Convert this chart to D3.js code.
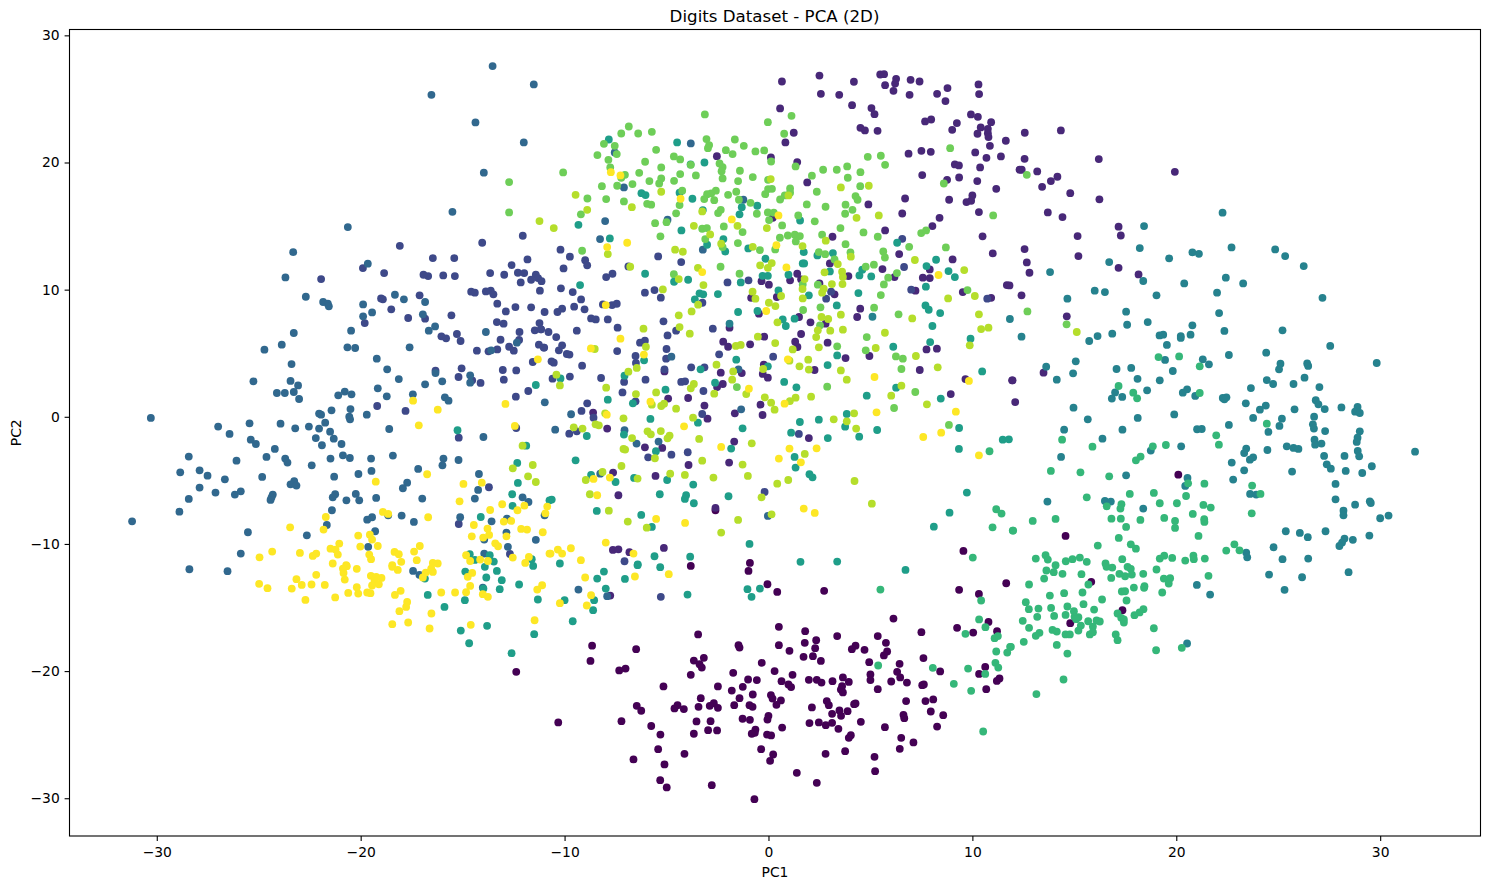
<!DOCTYPE html>
<html>
<head>
<meta charset="utf-8">
<title>Digits Dataset - PCA (2D)</title>
<script src="https://cdn.jsdelivr.net/npm/d3@7"></script>
<style>
  html, body { margin: 0; padding: 0; background: #fff; }
  svg { display: block; font-family: "DejaVu Sans", sans-serif; }
</style>
</head>
<body>
<svg id="chart" width="1489" height="889"></svg>
<script>
// First two principal components of the digits data, flat x,y lists per digit.
const digit0 = [-3.81,-11.73,-0.91,-11.49,-0.98,-12.12,-0.05,-13.17,0.43,-13.77,2.73,-13.69,9.35,-13.61,10.32,-13.93,11.66,-13.09,6.13,-15.87,0.51,-16.52,9.25,-16.6,10.79,-16.13,7.5,-16.94,10.04,-16.97,11.21,-16.86,1.8,-16.86,3.37,-17.25,5.36,-17.25,-3.45,-17.12,2.34,-17.57,1.78,-17.78,5.76,-17.78,-8.65,-18.0,-6.49,-18.28,-1.47,-17.96,-1.42,-18.15,0.51,-17.96,1.03,-18.41,2.29,-18.2,4.27,-18.0,4.09,-18.28,4.71,-18.33,5.82,-18.46,5.66,-18.77,1.72,-18.88,2.18,-18.83,2.57,-19.2,-3.17,-18.96,-3.66,-19.17,-8.73,-19.2,7.6,-18.98,4.94,-19.3,6.43,-19.43,-0.33,-19.35,-3.38,-19.46,-3.27,-19.72,-7.01,-19.8,-7.32,-19.95,0.3,-20.0,-1.73,-20.14,6.31,-20.06,8.42,-20.03,10.63,-19.67,10.33,-20.22,-3.81,-20.29,1.18,-20.29,5.0,-20.27,6.46,-20.5,3.65,-20.5,-1.0,-20.66,-0.57,-20.71,1.98,-20.69,2.37,-20.69,2.6,-20.9,3.14,-20.79,3.94,-20.85,0.64,-20.79,5.0,-20.71,6.02,-20.82,6.79,-20.9,11.33,-20.58,11.2,-20.77,7.62,-21.05,7.54,-21.11,0.98,-21.05,1.11,-21.26,-5.15,-21.21,-2.48,-21.21,-1.26,-21.24,3.61,-21.19,3.55,-21.45,3.65,-21.68,5.36,-21.42,10.68,-21.42,-1.8,-21.53,-0.77,-21.84,0.12,-21.89,0.2,-22.16,-1.42,-22.13,-3.32,-22.13,0.61,-22.31,6.75,-22.36,8.08,-22.23,7.7,-22.36,2.86,-22.36,2.96,-22.68,4.27,-22.55,4.2,-22.6,0.39,-22.65,-1.68,-22.68,-0.93,-22.68,-0.78,-22.81,-2.68,-22.52,-2.88,-22.73,-2.48,-22.89,-3.43,-22.81,-4.46,-22.68,-4.61,-22.94,-4.15,-22.99,-6.46,-22.73,-6.24,-23.12,2.13,-22.86,3.48,-23.1,3.88,-23.15,7.96,-23.18,3.12,-23.36,3.56,-23.52,8.57,-23.47,6.62,-23.44,6.66,-23.7,0.0,-23.52,-0.05,-23.81,-1.27,-23.75,-0.91,-23.83,-10.31,-24.04,-7.21,-23.94,-3.53,-23.96,-2.84,-23.94,2.01,-24.09,2.47,-24.04,2.81,-24.25,3.12,-24.07,4.53,-23.99,-5.75,-24.32,5.71,-24.41,8.27,-24.36,0.67,-24.44,3.43,-24.54,-2.96,-24.65,-2.52,-24.67,-0.64,-24.6,-3.66,-24.93,-5.3,-24.99,-0.67,-24.85,-0.82,-24.93,-0.07,-24.99,0.13,-25.06,4.04,-25.04,3.94,-25.25,6.51,-25.25,7.11,-25.61,6.44,-26.11,-5.41,-26.14,-0.36,-26.14,3.76,-26.3,-4.12,-26.51,2.8,-26.51,0.23,-26.56,5.2,-26.74,-6.62,-26.95,0.08,-27.06,-5.1,-27.34,5.23,-27.87,1.39,-28.0,-5.31,-28.58,2.37,-28.79,-2.78,-28.97,-4.99,-29.15,-0.69,-30.07,-12.37,-20.06,20.1,-4.55,14.57,-9.37,15.83,-12.98,17.36,-15.21,14.8,-16.23,9.56,-10.55,-2.6,-7.35];
const digit1 = [0.66,26.37,2.5,26.84,2.57,25.4,3.47,25.32,4.19,26.35,5.48,26.92,5.67,26.95,6.26,26.58,6.21,26.21,5.72,26.08,6.13,25.64,6.97,26.5,7.41,26.37,6.92,25.32,8.27,25.4,8.78,25.85,8.68,24.83,10.3,26.14,10.33,25.38,4.1,24.51,5.05,24.28,5.2,23.8,0.57,24.25,1.24,22.34,0.83,21.58,4.51,22.73,4.73,22.52,5.35,22.49,7.68,23.23,7.98,23.38,9.24,23.1,9.01,22.57,9.93,23.78,10.27,23.59,10.92,23.17,10.41,22.76,10.76,22.65,10.25,22.26,10.76,22.31,10.79,22.0,11.64,21.71,10.86,21.31,6.87,20.69,7.5,20.92,7.96,20.84,10.14,20.79,11.4,20.48,10.69,20.37,9.14,19.85,9.34,19.77,10.38,19.61,12.31,19.43,-2.53,20.5,0.12,20.4,1.41,20.03,7.54,19.01,8.76,18.64,9.35,18.82,10.24,18.54,11.17,17.93,1.9,18.43,6.7,17.17,8.86,17.07,10.0,17.41,9.71,16.89,9.94,16.99,4.9,16.7,6.56,15.99,10.32,16.1,8.39,15.65,0.21,15.65,8.04,15.0,5.72,14.66,10.5,14.19,3.14,14.16,6.41,12.8,11.0,12.85,3.01,12.06,9.03,12.38,5.59,11.62,7.91,11.59,7.57,10.94,7.91,10.91,6.18,10.99,3.92,11.07,1.41,11.25,1.06,10.73,-0.34,10.67,0.02,10.39,2.5,10.49,1.6,10.81,7.21,9.92,9.53,9.81,11.69,10.36,10.92,9.36,3.24,9.63,0.41,9.42,-0.85,9.36,12.57,22.34,14.34,22.52,12.56,20.29,16.2,20.27,12.42,19.43,13.18,19.3,13.85,18.54,14.17,18.88,13.42,18.09,14.8,17.59,16.23,17.1,19.93,19.27,13.7,16.07,14.42,15.71,15.16,14.21,17.17,14.95,17.28,14.26,12.56,13.19,12.67,12.14,12.8,11.33,15.2,12.64,17.17,11.72,18.15,11.2,12.41,9.55,11.82,10.33,14.63,7.9,13.49,3.47,11.97,2.87,12.1,1.16,4.5,8.5,4.35,7.85,-1.91,7.01,-0.47,8.11,1.5,7.85,2.06,7.43,2.8,7.32,1.6,6.51,-0.21,6.3,1.31,5.91,1.42,5.49,2.9,5.83,-0.9,5.7,-2.22,5.91,-1.98,5.51,3.78,4.62,4.95,4.78,7.75,5.3,8.26,5.36,7.42,3.68,2.26,3.68,-0.23,4.1,-0.28,3.37,-0.03,3.08,-1.31,3.44,-2.34,3.47,-2.24,2.58,-2.52,2.34,9.66,2.97,11.95,2.87,8.94,1.79,-5.1,3.57,-4.92,1.43,-3.94,1.48,-3.14,0.88,-0.39,0.95,-0.29,0.14,-1.65,0.27,-2.99,-0.15,-8.6,0.33,-7.91,-0.93,1.98,-1.67,-1.68,-1.95,-6.06,-2.4,-5.21,-2.45,-1.93,-3.6,-3.92,-3.79,-7.62,-4.39,-5.54,-4.65,-7.36,-6.17,-2.6,-7.17,-7.63,-10.47,-7.36,-10.42,-6.82,-10.65,-5.13,-10.31,-7.76,-14.06];
const digit2 = [-19.89,11.7,-18.08,13.45,-21.94,10.83,-18.85,11.3,-16.46,12.48,-15.41,12.48,-14.04,13.69,-12.05,14.24,-11.82,12.38,-12.6,11.93,-12.29,11.33,-11.98,11.3,-11.41,11.17,-11.3,10.91,-11.13,10.67,-11.64,10.78,-12.15,10.57,-12.96,11.17,-13.65,11.3,-15.38,11.07,-15.95,11.12,-16.69,11.07,-16.92,11.17,-11.21,9.92,-13.62,9.92,-13.86,9.86,-13.49,9.63,-14.58,9.84,-14.4,9.76,-19.0,9.31,-17.11,9.55,-18.91,9.24,-18.5,8.45,-17.67,7.77,-16.84,7.72,-19.8,7.37,-15.55,7.98,-16.04,6.33,-15.81,6.17,-15.28,6.51,-15.1,5.96,-14.3,5.2,-13.3,8.9,-12.88,8.29,-12.41,8.63,-11.64,8.61,-10.98,8.24,-13.32,7.45,-12.99,7.32,-11.23,7.37,-11.46,6.8,-11.16,6.88,-12.21,6.67,-13.14,6.06,-12.23,6.04,-12.72,5.51,-12.49,5.2,-13.3,5.3,-11.26,5.67,-11.0,5.44,-13.73,5.15,-11.56,4.31,-13.03,3.68,-12.37,3.65,-15.05,3.81,-16.33,3.63,-15.2,3.13,-14.53,2.87,-14.12,2.66,-12.98,2.92,-11.78,2.03,-12.39,1.58,-19.19,0.85,-17.8,0.46,-12.37,-0.88,-15.19,-1.64,-13.71,-5.54,-15.19,-8.43,-12.68,-10.79,-10.2,13.14,-9.74,12.59,-8.99,12.32,-8.89,11.91,-10.05,11.67,-7.65,11.25,-7.96,10.99,-6.87,11.83,-5.41,12.61,-4.28,12.17,-10.18,10.1,-9.6,9.81,-9.19,9.23,-6.06,9.76,-5.59,9.97,-5.28,9.37,-2.01,10.57,-0.98,10.73,-9.53,8.66,-9.02,8.45,-10.35,8.24,-10.12,8.5,-8.12,8.84,-7.67,8.79,-7.44,8.89,-3.24,8.97,-8.7,7.74,-8.47,7.66,-7.88,7.66,-5.15,7.51,-7.4,7.01,-4.53,6.77,-4.95,6.4,-2.73,6.93,-9.4,6.77,-10.79,6.67,-11.15,6.88,-10.41,6.27,-6.06,5.99,-6.3,5.83,-10.12,5.62,-11.02,5.44,-10.28,5.23,-9.89,4.94,-9.76,4.89,-7.42,5.17,-5.0,5.33,-5.02,4.57,-6.52,4.78,-6.5,4.23,-10.64,4.36,-10.53,4.26,-9.14,4.02,-3.79,3.89,-3.14,3.89,-5.1,3.73,-9.74,3.16,-10.59,3.0,-8.21,3.05,-7.08,2.74,-6.03,2.92,-7.16,1.92,-4.28,2.74,-4.09,2.79,-3.19,2.03,-6.52,1.22,-8.89,1.06,-9.17,0.46,-8.58,-0.07,-3.25,0.22,-9.4,-1.14,-9.77,-1.33,-5.9,-3.19,-4.76,-2.98,-3.96,-2.79,-2.42,4.91,0.23,4.73,-7.06,-11.36,1.49,-1.35,-0.19,-5.91,-5.28,-14.16,6.56,14.0,6.65,11.78,7.0,10.0,3.07,9.84,2.83,9.29,10.73,9.29];
const digit3 = [-13.53,27.58,-11.51,26.14,-16.53,25.32,-14.37,23.15,-12.0,21.58,-13.96,19.2,-15.5,16.12,-20.63,14.92,-23.31,12.95,-23.69,10.96,-22.69,9.44,-19.65,12.04,-18.32,9.6,-17.88,9.24,-21.84,9.03,-21.61,8.9,-21.56,8.69,-19.88,8.84,-19.44,8.21,-19.88,7.9,-16.95,8.06,-16.35,7.11,-16.66,6.77,-16.84,9.03,-20.47,6.77,-23.28,6.59,-23.87,5.67,-24.72,5.28,-20.65,5.46,-20.27,5.41,-17.6,5.46,-23.39,4.15,-25.26,2.79,-23.44,2.82,-23.07,2.47,-24.11,1.87,-23.72,1.87,-23.28,1.95,-23.02,1.4,-21.1,1.69,-20.78,1.98,-20.45,1.77,-19.21,4.57,-18.7,3.73,-18.13,2.97,-19.16,2.24,-18.72,1.61,-17.44,1.77,-16.84,2.55,-16.0,2.79,-16.33,3.44,-14.63,3.26,-14.63,2.68,-15.87,1.53,-15.69,1.27,-13.86,6.67,-13.6,5.23,-12.34,5.83,-10.97,1.14,-30.29,-0.09,-25.45,-0.51,-26.99,-0.77,-26.43,-1.35,-23.93,-0.54,-23.21,-0.91,-22.54,-0.77,-22.04,0.25,-21.94,0.17,-21.43,0.51,-20.5,0.61,-19.7,0.17,-20.56,0.01,-20.52,-0.2,-21.74,-0.46,-22.04,-0.93,-21.5,-1.17,-22.2,-1.67,-21.32,-1.72,-21.9,-2.24,-20.94,-2.14,-18.6,-0.96,-25.39,-1.8,-25.14,-2.14,-24.21,-2.53,-24.62,-3.16,-23.7,-3.29,-23.59,-3.6,-26.09,-3.45,-28.43,-3.13,-28.85,-4.37,-27.9,-4.21,-27.51,-4.63,-26.66,-4.92,-27.9,-5.57,-27.12,-5.96,-28.43,-6.46,-28.89,-7.46,-31.21,-8.22,-26.17,-6.12,-25.88,-5.86,-24.83,-4.73,-24.31,-6.12,-24.37,-6.33,-24.42,-6.54,-23.26,-5.07,-23.44,-5.31,-23.15,-5.41,-22.4,-3.82,-21.48,-3.29,-20.87,-3.03,-20.53,-3.24,-21.3,-4.71,-21.25,-6.09,-21.37,-6.33,-20.24,-6.07,-20.7,-6.57,-20.07,-6.57,-21.41,-7.35,-19.49,-3.29,-19.47,-4.26,-20.11,-4.5,-19.24,-6.38,-18.42,-3.05,-17.18,-4.1,-17.72,-5.18,-17.93,-5.62,-16.98,-6.43,-17.99,-7.77,-17.39,-8.27,-19.44,-7.9,-19.68,-8.09,-18.65,-7.75,-21.66,-8.51,-25.53,-9.08,-22.64,-9.32,-19.29,-9.0,-19.63,-10.23,-25.88,-10.76,-15.94,-3.29,-15.99,-3.82,-15.2,-3.4,-13.98,-1.59,-14.2,-4.5,-14.24,-5.75,-14.4,-6.43,-12.06,-6.33,-11.77,-6.7,-15.12,-7.9,-13.58,-8.22,-12.83,-8.01,-12.85,-9.11,-10.98,-7.75,-13.94,-9.66,-12.78,-10.23,-11.41,-9.68,-13.94,-10.76,-28.4,-11.99,-26.53,-12.14,-17.43,-12.12,-17.12,-12.43,-14.01,-13.43,-9.32,-13.59,-7.91,-14.11,-3.81,21.5,-7.54,20.79,-7.09,18.04,-1.23,17.07,-4.95,15.5,-8.01,15.39,-8.26,13.98,-3.22,13.14,-10.46,-1.01,-9.68,0.2,-1.47,3.73,-6.47,-2.11,-5.39,-1.95,-4.76,4.73,-1.34,0.59,-8.25,-4.47,-0.03,-7.8,-7.06,-1.06];
const digit4 = [22.27,16.05,18.42,15.0,18.21,13.27,22.71,13.32,20.79,12.93,21.11,12.82,24.85,13.16,25.34,12.64,19.65,12.46,16.71,12.17,26.25,11.85,13.81,11.38,18.38,10.68,22.43,10.94,23.28,10.49,20.39,10.49,16.0,9.92,16.5,9.81,22.0,9.76,19.03,9.55,27.17,9.36,14.66,9.29,17.54,8.27,22.1,8.16,18.6,7.45,17.59,7.24,20.79,7.19,22.36,6.75,25.21,6.8,16.86,6.54,16.14,6.35,15.73,5.96,19.18,6.4,19.36,6.46,20.22,6.35,20.22,6.2,20.7,6.46,12.41,6.3,27.55,5.57,19.54,5.65,24.41,5.04,22.58,4.86,19.45,4.47,21.3,4.52,21.6,4.13,15.07,4.36,13.62,3.94,29.83,4.23,25.11,4.18,25.04,3.73,26.42,4.2,26.47,4.0,17.07,3.76,17.79,3.84,14.94,3.42,19.83,3.6,14.14,2.92,18.1,2.99,19.19,2.87,24.44,2.89,24.75,2.58,25.75,2.58,26.29,3.08,27.02,2.34,23.66,2.26,18.57,2.08,20.53,2.16,20.32,1.9,17.0,1.92,16.84,1.43,17.35,1.56,20.93,1.64,22.28,1.48,22.46,1.53,22.36,1.37,26.84,1.3,26.97,0.98,23.41,1.06,24.39,0.88,28.1,0.74,28.89,0.77,28.77,0.4,29.0,0.3,27.28,0.61,14.96,0.72,25.8,0.59,24.1,0.56,19.9,0.19,26.76,0.01,15.66,-0.2,18.11,-0.09,23.77,-0.09,25.18,-0.15,25.06,-0.72,22.58,-0.64,26.7,-0.59,26.75,-0.93,14.5,-1.01,17.36,-1.01,21.02,-0.98,21.25,-0.96,24.52,-1.19,27.3,-1.12,29.0,-1.14,28.89,-1.64,28.85,-1.98,26.78,-1.8,26.81,-2.19,27.12,-2.11,16.38,-1.72,20.24,-2.32,25.42,-2.32,25.75,-2.45,25.99,-2.53,23.43,-2.5,23.33,-2.85,24.47,-2.61,18.75,-2.66,31.71,-2.74,28.9,-2.69,28.97,-3.11,28.25,-3.08,27.25,-3.08,14.35,-3.16,23.77,-3.19,23.61,-3.37,22.72,-3.6,27.38,-3.74,27.58,-4.08,29.59,-3.89,23.33,-4.21,25.68,-4.31,28.31,-4.26,29.12,-4.42,17.54,-4.6,20.55,-4.81,22.79,-4.94,20.44,-5.44,27.81,-5.28,23.62,-6.07,23.92,-6.12,27.81,-6.49,29.49,-6.65,29.54,-6.78,28.77,-6.91,16.5,-6.62,16.79,-6.67,13.68,-6.67,18.38,-7.22,28.2,-7.38,28.2,-7.75,30.41,-7.77,30.0,-7.98,25.37,-9.0,26.06,-9.13,26.45,-9.47,27.32,-9.0,28.25,-9.58,28.13,-9.89,28.0,-10.16,28.66,-9.68,29.47,-9.34,24.77,-10.26,23.43,-10.68,23.48,-11.05,25.21,-11.2,26.47,-11.15,24.55,-12.41,26.17,-12.62,28.45,-12.22,21.01,-13.22,21.66,-13.98,25.31,-13.61,20.53,-17.83,11.84,7.69,5.1,7.87,-1.91,7.32];
const digit5 = [-7.83,21.81,-4.48,21.58,-3.14,20.0,-3.82,19.85,-4.36,17.62,-6.23,17.59,-6.03,17.44,-3.73,17.15,-1.31,16.49,-0.55,16.6,-3.22,16.26,-1.42,15.92,-9.32,15.1,1.55,15.44,-4.27,14.66,-7.78,14.03,-2.21,13.98,-3.01,13.53,-2.12,13.0,-0.99,13.24,1.73,12.95,3.16,12.88,2.4,12.69,-0.15,12.43,1.68,12.06,1.75,12.06,-6.05,11.25,3.01,11.43,4.6,11.57,4.46,11.12,5.04,11.04,7.75,11.85,8.22,12.35,8.83,11.46,9.14,10.99,6.31,13.69,-0.29,11.09,-0.03,11.09,0.98,11.17,-3.94,10.78,-4.63,10.62,-1.36,10.57,-9.24,10.36,0.49,9.94,7.72,10.23,-3.38,9.71,-3.2,9.63,-2.48,9.65,4.41,9.73,1.98,9.55,-3.61,9.23,3.35,8.76,-1.49,8.24,-0.54,8.32,0.7,7.66,1.28,7.72,0.85,7.14,7.7,8.76,7.86,8.42,8.42,8.16,8.04,7.14,7.93,5.88,9.91,6.14,6.12,5.51,3.37,4.83,2.9,4.07,-1.58,4.49,-6.1,4.44,-3.33,3.73,-0.03,3.97,10.48,3.57,-7.06,3.23,-10.2,3.02,-2.62,2.68,0.77,2.74,1.37,2.32,-5.05,2.13,-7.88,1.35,4.82,1.66,6.26,2.29,8.45,1.43,-6.65,1.06,-5.79,-0.17,-3.46,-0.46,2.47,-0.23,3.84,0.22,3.76,-0.78,1.54,-0.41,-8.91,-1.51,-7.09,-1.4,-1.27,-0.91,1.11,-1.25,2.91,-1.67,4.45,-1.56,5.33,-1.04,9.35,-0.88,-5.52,-2.71,-1.83,-2.5,-9.46,-3.42,1.28,-3.16,1.33,-3.99,9.34,-2.53,2.01,-4.52,2.16,-4.76,-8.7,-4.57,-6.59,-4.81,-7.5,-5.13,-4.97,-4.97,-3.69,-5.33,-5.33,-6.09,-4.04,-6.17,-4.1,-6.46,-1.96,-6.25,-3.66,-6.8,-10.63,-6.51,-8.42,-7.4,9.73,-5.96,-6.24,-7.72,-5.72,-8.66,8.88,-7.54,8.11,-8.64,11.49,-1.8,11.79,-1.77,-0.93,-10.0,-5.59,-10.97,-3.84,-11.0,1.57,-11.41,3.37,-11.39,-10.23,-11.54,-6.41,-11.6,-11.41,2.5,-15.25,-1.06,-11.88,-2.27,-12.32,-3.63,-12.29,-5.2,-12.57,-6.09,-12.55,-7.01,-14.11,-7.88,-14.65,-10.81,-13.67,-10.89,-14.4,-11.26,-13.47,-11.39,-11.61,-11.2,-10.74,-6.57,-13.91,-11.8,-14.87,-12.17,-13.32,-12.12,-13.84,-12.64,-13.08,-12.85,-16.85,-12.72,-12.23,-13.19,-13.98,-13.51,-13.18,-13.56,-16.71,-14.01,-15.89,-14.95,-14.89,-14.42,-11.31,-14.37,-13.8,-16.44,-15.09,-16.81,-14.68,-17.81,-11.49,-17.1,-12.6,-18.59,-11.54,-11.73,-8.07,-12.17,-8.4,-12.72,-6.42,-11.67,-5.31,-11.83,-7.04,-12.75,-7.98,-13.51,-10.0,-14.42,-8.55,-14.42,-8.6,-15.21,-9.6,-16.08,-3.97,-13.98,-1.03,-13.56,-0.42,-13.51,-0.83,-14.16,6.72,-12.04];
const digit6 = [10.84,-2.71,10.02,-11.07,11.17,-7.27,11.43,-7.61,10.99,-8.69,12.0,-8.95,19.13,4.7,20.14,4.75,21.15,3.97,17.17,2.42,17.89,1.9,18.08,1.45,21.15,1.87,24.44,-0.54,21.96,-1.46,22.09,-2.19,14.4,-1.8,15.89,-2.35,18.85,-2.32,19.49,-2.22,18.25,-3.13,18.02,-3.42,13.85,-4.26,15.3,-4.37,16.71,-4.68,20.58,-5.23,21.38,-5.26,23.72,-5.41,24.13,-6.07,17.72,-6.07,18.9,-5.99,15.61,-6.33,20.48,-6.23,19.19,-6.8,20.03,-6.8,21.33,-6.93,21.69,-7.14,17.31,-6.88,17.26,-7.22,16.59,-7.04,20.81,-7.64,23.7,-7.59,16.82,-8.01,17.28,-8.01,18.24,-8.11,19.41,-7.95,14.08,-8.03,12.96,-8.19,19.94,-8.19,21.37,-8.06,21.38,-8.27,17.54,-8.66,19.94,-8.74,11.98,-8.95,21.09,-9.37,17.18,-9.53,16.15,-10.13,17.77,-10.03,18.02,-10.37,22.85,-10.03,22.45,-10.52,23.1,-10.5,13.11,-11.15,13.59,-10.89,13.7,-11.23,14.58,-11.36,14.91,-11.2,15.27,-11.07,15.61,-11.41,14.08,-11.67,17.35,-11.2,16.53,-11.54,19.19,-11.15,19.41,-10.92,19.8,-11.1,20.44,-11.31,20.84,-10.92,20.86,-11.2,21.4,-11.15,16.58,-11.8,16.86,-11.86,13.63,-12.09,13.99,-12.22,14.42,-12.35,13.52,-12.72,15.35,-12.38,17.61,-11.8,17.77,-11.96,17.21,-12.35,17.49,-12.54,17.82,-12.41,16.81,-12.67,18.38,-12.35,19.03,-12.01,21.58,-12.51,19.39,-12.72,19.7,-12.7,19.63,-13.11,12.78,-13.19,15.69,-13.19,17.92,-13.43,18.44,-13.32,18.42,-13.45,17.33,-13.74,17.49,-13.72,19.31,-13.82,13.8,-14.06,14.5,-13.87,15.4,-13.82,16.36,-14.37,17.56,-14.45,12.62,-14.58,15.45,-14.74,12.77,-15.13,13.24,-15.08,13.86,-15.03,14.66,-14.92,15.97,-15.16,18.39,-15.13,18.2,-15.39,17.95,-15.6,13.18,-15.73,14.01,-15.66,14.57,-15.58,14.98,-15.29,15.2,-15.76,15.01,-15.73,15.09,-15.92,17.12,-15.47,17.3,-15.81,17.43,-15.94,17.43,-16.18,12.47,-16.05,15.68,-16.08,16.09,-16.02,16.25,-16.1,12.78,-16.6,15.32,-16.42,15.91,-16.5,18.9,-16.63,13.93,-16.76,14.14,-16.89,15.2,-16.81,13.29,-16.99,13.11,-17.23,14.57,-17.12,14.78,-17.12,15.91,-16.94,15.76,-17.12,17.03,-17.12,17.12,-17.57,12.52,-17.7,14.14,-17.94,11.89,-18.09,20.27,-18.17,19.01,-18.36,14.66,-18.62,14.47,-20.66,13.14,-21.81,5.49,-13.59,10.43,-14.45,10.33,-15.94,10.64,-16.55,9.66,-17.07,11.09,-17.41,11.25,-17.25,11.85,-18.09,11.17,-18.46,11.71,-18.54,11.13,-19.35,11.27,-19.72,5.38,-19.56,8.06,-19.74,9.79,-19.8,10.63,-20.22,9.09,-21.0,9.94,-21.55,10.53,-24.75];
const digit7 = [-12.72,18.46,-12.72,16.07,-3.12,23.78,-0.03,23.17,1.13,23.67,0.77,22.26,-6.85,22.83,-7.22,22.28,-6.39,22.28,-5.72,22.41,-8.07,21.47,-7.54,21.31,-3.04,21.84,-2.91,21.37,-2.97,21.13,-1.65,21.81,-1.21,21.31,-2.09,20.97,-1.76,20.66,-0.64,20.87,-0.21,20.95,-5.51,21.0,-8.39,20.58,-7.44,20.66,-7.85,20.21,-6.05,20.06,-4.64,20.48,-4.33,20.24,-2.4,19.93,-2.25,19.64,0.13,20.08,8.91,21.13,4.87,20.45,5.51,20.53,5.72,19.82,-7.76,19.61,-5.26,19.61,-3.81,19.82,-2.3,19.32,-1.4,19.35,1.33,19.69,2.68,19.43,3.35,19.43,3.86,19.69,4.51,19.24,-10.07,19.22,-6.34,19.19,-4.33,19.09,-3.56,18.98,-7.04,19.03,-7.22,18.8,-5.26,18.75,-2.25,18.75,-0.77,18.85,2.13,18.96,3.89,18.8,-0.02,18.64,-5.84,18.54,-4.63,18.56,-1.49,18.54,-5.36,18.35,-8.17,18.14,-7.42,18.17,-6.67,18.3,4.5,18.14,8.6,18.35,1.06,17.96,-0.02,17.91,0.17,17.93,-4.23,17.78,-2.58,17.78,-1.58,17.7,2.37,17.7,-3.01,17.51,-2.81,17.57,-1.98,17.46,-0.16,17.51,1.06,17.62,-7.96,17.12,-8.88,17.17,-3.15,17.12,-2.66,17.04,-1.45,17.07,0.57,17.09,0.8,17.41,4.27,17.36,4.37,17.07,-7.09,16.94,-5.95,16.75,-5.75,16.68,-4.36,16.65,-0.88,16.83,1.88,16.7,2.8,16.52,3.78,16.68,4.12,16.28,-4.53,16.0,-2.47,16.02,-2.34,16.28,-0.57,15.97,-0.03,16.07,0.26,16.05,3.76,15.97,-9.2,15.92,1.46,15.84,11.02,15.84,0.03,15.47,-5.56,15.23,-5.0,15.31,2.27,15.37,-2.19,14.97,0.67,15.05,-3.25,14.79,-3.02,14.84,3.53,14.84,-1.27,14.53,4.66,14.5,7.49,14.45,7.73,14.66,-5.3,14.19,0.95,14.26,1.29,14.32,1.54,14.21,2.63,14.32,5.36,14.16,0.56,14.08,-3.1,13.98,1.34,13.79,-1.5,13.66,3.78,13.58,-2.25,13.35,-9.14,13.06,-0.42,13.11,0.33,13.16,6.9,13.37,8.7,13.32,5.63,13.0,2.47,12.95,2.78,12.79,4.02,12.93,5.71,12.53,3.24,12.38,5.17,11.96,-2.35,11.8,4.77,11.8,-4.64,11.22,-1.42,11.25,6.3,11.3,5.87,10.94,1.68,10.41,2.42,10.39,5.66,10.41,9.76,9.97,5.51,9.57,12.67,19.03,5.18,8.58,6.38,8.06,2.55,8.61,1.7,8.4,2.53,7.19,4.82,6.27,4.77,5.23,3.37,5.54,6.25,4.75,6.59,4.57,6.52,3.76,7.2,1.95,2.88,2.37,6.16,0.69,-1.55,2.34,8.85,-0.64,12.7,8.29,14.62,7.27];
const digit8 = [-11.23,15.39,-10.53,14.84,-9.46,17.46,-8.89,16.28,-7.88,12.8,-6.7,16.49,-5.26,17.7,-4.58,13.14,-4.2,12.98,-3.25,16.15,-3.66,15.02,-2.86,14.34,-1.52,15.02,-0.08,14.84,0.11,18.7,0.98,17.41,3.55,18.04,4.92,18.17,5.41,15.84,4.32,15.65,2.81,13.85,1.67,13.43,-0.77,13.37,-2.32,13.61,4.04,12.59,7.18,12.33,-0.41,11.91,0.16,12.09,-0.03,11.72,3.4,12.01,-3.46,11.72,-6.78,11.8,2.75,11.36,3.61,11.41,3.65,11.0,9.6,11.54,-4.4,10.83,-3.19,10.36,-5.18,10.02,1.77,10.83,3.11,10.44,3.63,10.44,2.71,10.07,1.67,10.05,2.63,9.76,-0.78,9.84,-0.64,9.29,0.62,9.5,10.12,9.5,8.81,9.31,1.68,9.31,0.02,8.97,0.34,8.71,-3.77,8.29,-3.45,8.82,-4.4,7.98,3.55,8.03,2.6,7.85,2.93,7.69,0.44,7.43,7.05,7.74,10.32,8.06,10.43,6.9,10.79,7.01,2.42,6.8,3.03,6.77,3.65,6.85,5.71,6.61,-4.36,7.06,-3.86,6.54,-6.13,6.93,2.34,6.27,-0.52,6.3,0.33,5.8,-1.6,5.57,-1.36,5.65,-6.01,5.51,-8.52,5.33,1.19,5.3,2.47,5.46,5.26,5.41,9.87,5.62,7.23,4.78,1.03,4.41,1.95,4.49,-2.55,4.1,-6.46,3.84,-6.87,3.55,1.52,3.97,1.98,3.71,3.55,3.65,-0.26,3.76,-1.73,3.57,8.3,3.89,-10.4,3.31,-10.23,2.47,3.84,2.92,-1.78,2.92,-3.66,2.58,-3.81,2.24,-7.96,2.29,-5.51,1.92,-6.5,1.79,-2.66,1.82,-1.09,1.79,6.52,2.45,6.02,1.66,-0.18,1.53,2.09,1.58,1.33,1.5,1.05,1.24,0.13,1.11,-5.12,1.03,-5.26,0.85,-5.72,0.95,7.77,0.98,0.3,0.56,-4.53,0.64,4.2,0.27,-8.01,0.27,-3.7,-0.07,-7.11,-0.12,3.2,-0.2,3.84,-0.36,-8.48,-0.59,-8.32,-0.67,-9.55,-0.83,-9.12,-0.93,4.3,-0.93,-5.93,-1.14,-5.77,-1.38,-5.28,-1.12,-4.85,-1.48,-4.95,-1.69,-6.69,-1.67,-3.4,-1.74,-0.82,-2.09,-7.11,-2.53,-7.03,-2.58,1.78,-2.92,-5.57,-3.26,-3.25,-3.45,-1.27,-3.76,-7.21,-3.87,-8.14,-4.34,-4.82,-4.47,-4.1,-4.57,-8.96,-4.97,-6.42,-4.86,-2.7,-4.78,-1.01,-4.65,0.97,-4.97,0.43,-5.26,4.22,-5.05,-0.34,-6.33,-8.76,-6.09,5.07,-6.83,-7.83,-7.38,0.15,-7.67,-1.49,-8.11,-6.9,-8.24,-5.97,-8.72,-2.32,-9.11,-12.54,-4.05,-11.56,-3.79,-11.79,-4.68,-11.41,-5.13,-12.06,-2.27,15.12,6.67];
const digit9 = [-7.73,19.24,-7.26,18.98,-4.31,17.15,-1.8,15.52,0.49,15.84,-6.93,13.69,-7.91,13.35,0.39,13.5,0.88,11.75,-3.25,11.38,8.34,11.15,-7.98,8.79,-0.11,8.32,-7.26,6.14,-8.71,5.38,-6.11,4.89,0.95,4.52,5.2,3.13,9.83,2.82,-0.96,2.21,-5.79,1.19,0.79,1.03,5.3,0.35,9.19,0.4,-4.14,-0.75,-7.93,0.17,8.47,-1.25,7.59,-1.59,-2.32,-2.37,1.03,-2.5,2.36,-2.48,0.51,-3.29,1.59,-3.58,10.32,-3.03,-8.58,-4.89,-7.78,-4.78,-8.4,-6.17,-10.85,-7.06,-10.94,-7.59,1.73,-7.22,2.27,-7.56,-5.51,-8.03,-4.09,-8.35,-11.07,-9.08,-7.98,-9.89,-9.69,-10.34,-10.33,-10.44,-10.69,-10.76,-10.12,-10.76,-6.62,-10.76,-9.2,-11.28,-11.31,4.52,-17.43,1.27,-16.22,0.56,-12.9,1.01,-17.15,-0.67,-12.44,-0.72,-19.26,-5.1,-16.74,-4.52,-14.96,-5.28,-14.06,-5.18,-15.15,-6.65,-13.06,-6.88,-13.65,-7.33,-12.31,-7.35,-11.97,-6.99,-18.91,-7.48,-18.65,-7.64,-16.69,-7.9,-21.71,-7.88,-23.46,-8.69,-21.82,-8.87,-14.45,-8.51,-13.78,-8.79,-12.98,-8.24,-12.62,-8.19,-12.13,-8.82,-11.84,-8.87,-20.12,-9.34,-19.55,-9.27,-19.44,-9.66,-14.55,-9.4,-13.7,-9.29,-13.99,-9.5,-12.85,-9.4,-13.4,-9.95,-13.26,-10.18,-21.05,-9.97,-21.48,-10.37,-21.23,-10.44,-20.02,-10.21,-19.16,-10.16,-17.1,-10.16,-24.34,-10.6,-24.96,-11.05,-22.98,-10.71,-22.18,-10.76,-22.35,-10.94,-21.12,-10.84,-19.58,-10.84,-19.49,-11.2,-18.34,-10.63,-18.13,-10.81,-17.38,-10.6,-17.25,-11.28,-18.01,-11.41,-21.37,-11.54,-20.71,-11.67,-18.45,-11.67,-16.46,-11.49,-16.22,-11.54,-14.83,-10.89,-14.63,-11.34,-14.14,-11.23,-13.76,-11.34,-12.54,-11.07,-11.75,-11.02,-11.93,-11.49,-10.74,-10.76,-24.98,-13.14,-24.57,-13.48,-23.38,-13.51,-23.15,-12.77,-22.89,-13.22,-22.41,-13.19,-22.18,-12.43,-21.76,-13.22,-22.71,-14.4,-21.25,-14.21,-20.68,-11.75,-20.87,-11.94,-20.84,-12.28,-20.78,-12.8,-20.19,-11.96,-20.19,-13.4,-20.61,-13.85,-20.12,-13.9,-19.68,-13.82,-19.52,-13.87,-19.5,-12.51,-19.24,-12.59,-18.98,-12.67,-19.32,-12.9,-19.11,-13.17,-19.44,-13.27,-18.45,-11.8,-18.18,-12.04,-18.32,-14.01,-18.04,-13.69,-17.72,-14.56,-17.77,-14.95,-18.1,-15.29,-18.45,-16.31,-17.67,-16.18,-16.53,-15.47,-16.62,-16.65,-16.05,-13.82,-15.37,-13.82,-14.83,-13.8,-14.63,-13.3,-14.01,-13.95,-13.76,-14.16,-16.81,-12.25,-16.54,-11.94,-16.46,-12.2,-16.95,-12.64,-14.53,-12.28,-14.75,-12.59,-14.6,-16.36,-11.47,-16.0,-11.34,-13.59,-11.1,-13.25,-8.99,-12.64,-6.55,-12.56,-4.89,-12.38,-8.7,-14.03,-8.91,-14.84,-10.23,-14.66];

const digitSeries = [digit0, digit1, digit2, digit3, digit4, digit5, digit6, digit7, digit8, digit9];
const xTicks = [-30, -20, -10, 0, 10, 20, 30];
const yTicks = [-30, -20, -10, 0, 10, 20, 30];
const chartTitle = "Digits Dataset - PCA (2D)";
const xLabel = "PC1";
const yLabel = "PC2";

const box = { left: 69.5, right: 1480.5, top: 29.5, bottom: 836 };

const x = d3.scaleLinear().domain([-34.28, 34.92]).range([box.left, box.right]);
const y = d3.scaleLinear().domain([-32.97, 30.46]).range([box.bottom, box.top]);
const color = d3.scaleSequential(d3.interpolateViridis).domain([0, 9]);

const svg = d3.select("#chart");

// Unpack each flat list into points tagged with their digit.
const points = digitSeries.flatMap((values, digit) =>
  d3.range(0, values.length, 2).map(i => ({ digit, pc1: values[i], pc2: values[i + 1] }))
);

svg.append("g")
  .selectAll("circle")
  .data(points)
  .join("circle")
  .attr("cx", d => x(d.pc1))
  .attr("cy", d => y(d.pc2))
  .attr("r", 3.9)
  .attr("fill", d => color(d.digit));

// Axis frame
svg.append("rect")
  .attr("x", box.left).attr("y", box.top)
  .attr("width", box.right - box.left).attr("height", box.bottom - box.top)
  .attr("fill", "none").attr("stroke", "#000").attr("stroke-width", 1.1);

const xAxis = svg.append("g")
  .attr("transform", `translate(0,${box.bottom})`)
  .call(d3.axisBottom(x).tickValues(xTicks).tickSize(4.9).tickPadding(5.8).tickFormat(d3.format("d")));
const yAxis = svg.append("g")
  .attr("transform", `translate(${box.left},0)`)
  .call(d3.axisLeft(y).tickValues(yTicks).tickSize(4.9).tickPadding(4.9).tickFormat(d3.format("d")));

[xAxis, yAxis].forEach(axis => {
  axis.select(".domain").remove();
  axis.selectAll("line").attr("stroke", "#000").attr("stroke-width", 1.1);
  axis.selectAll("text").attr("fill", "#000")
    .style("font-family", '"DejaVu Sans", sans-serif').style("font-size", "13.89px");
});

svg.append("text")
  .attr("x", (box.left + box.right) / 2 - 0.5).attr("y", 22)
  .attr("text-anchor", "middle").attr("font-size", 16.67).attr("fill", "#000")
  .text(chartTitle);

svg.append("text")
  .attr("x", (box.left + box.right) / 2).attr("y", 877)
  .attr("text-anchor", "middle").attr("font-size", 13.89).attr("fill", "#000")
  .text(xLabel);

svg.append("text")
  .attr("transform", `translate(21,${(box.top + box.bottom) / 2}) rotate(-90)`)
  .attr("text-anchor", "middle").attr("font-size", 13.89).attr("fill", "#000")
  .text(yLabel);
</script>
</body>
</html>
